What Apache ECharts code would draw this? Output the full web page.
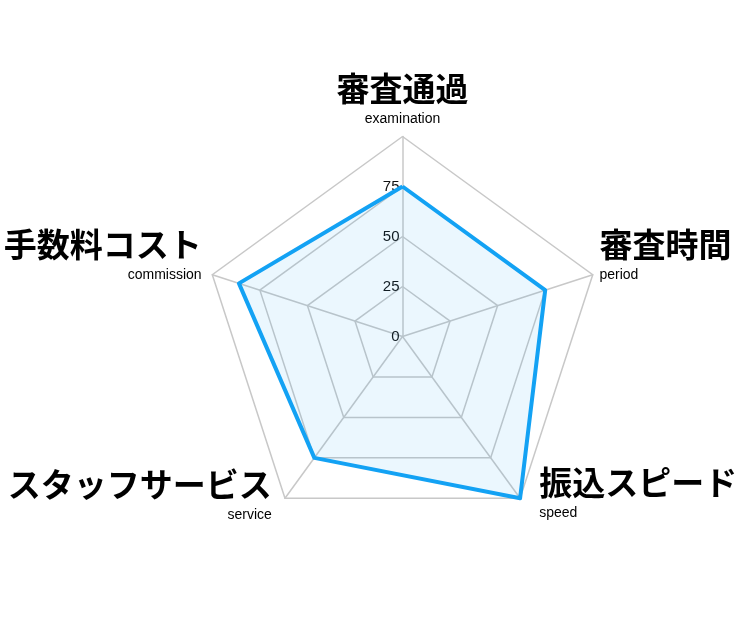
<!DOCTYPE html>
<html>
<head>
<meta charset="utf-8">
<script src="https://cdn.jsdelivr.net/npm/echarts@6/dist/echarts.min.js"></script>
<style>
html,body{margin:0;padding:0;background:#fff;}
#chart{width:750px;height:625px;}
</style>
</head>
<body>
<div id="chart"></div>
<script>
// Indicators in ECharts order (counter-clockwise from top)
const indicatorNames = ['審査通過', '手数料コスト', 'スタッフサービス', '振込スピード', '審査時間'];
const indicatorSubs = ['examination', 'commission', 'service', 'speed', 'period'];
const scores = [75, 86, 75, 100, 75];
const maxScore = 100;
const tickLabels = ['0', '25', '50', '75'];

// per-indicator label nudges: [paddingLeft, paddingRight, extra bottom padding of subtitle]
const nudges = [
  [0, 0, 0],
  [0, 4, 37],
  [0, 9, 20],
  [15, 0, 24],
  [0, 0, 36]
];

const rich = {};
indicatorNames.forEach((n, i) => {
  const nd = nudges[i];
  rich['n' + i] = {
    fontSize: 33, fontWeight: 'bold', color: '#000',
    fontFamily: '"Noto Sans CJK JP", sans-serif',
    height: 42, padding: [0, nd[1], 0, nd[0]]
  };
  rich['s' + i] = {
    fontSize: 14, color: '#000',
    fontFamily: '"Liberation Sans", Arial, sans-serif',
    height: 20, padding: [0, nd[1], nd[2], nd[0]]
  };
});

const chart = echarts.init(document.getElementById('chart'));
chart.setOption({
  backgroundColor: '#fff',
  animation: false,
  radar: {
    center: ['53.67%', '53.84%'],
    radius: 200,
    startAngle: 90,
    splitNumber: 4,
    axisNameGap: 7,
    axisName: {
      formatter: function (name, ind) {
        const i = indicatorNames.indexOf(name);
        return '{n' + i + '|' + name + '}\n{s' + i + '|' + indicatorSubs[i] + '}';
      },
      rich: rich
    },
    axisLine: { lineStyle: { color: '#c8c8c8', width: 1.5 } },
    splitLine: { lineStyle: { color: '#c8c8c8', width: 1.5 } },
    splitArea: { show: false },
    axisTick: { show: false },
    axisLabel: { show: false },
    indicator: indicatorNames.map((n, i) => {
      const o = { name: n, min: 0, max: maxScore };
      if (i === 0) {
        o.axisLabel = {
          show: true, fontSize: 15, color: '#111', margin: 3,
          fontFamily: '"Liberation Sans", Arial, sans-serif',
          formatter: function (v) {
            const s = String(v);
            return tickLabels.indexOf(s) >= 0 ? s : '';
          }
        };
      }
      return o;
    })
  },
  series: [{
    type: 'radar',
    symbol: 'none',
    lineStyle: { color: '#13a2f4', width: 4 },
    itemStyle: { color: '#13a2f4' },
    areaStyle: { color: 'rgba(19,162,244,0.12)' },
    data: [{ value: scores, name: 'score' }]
  }]
});
</script>
</body>
</html>
